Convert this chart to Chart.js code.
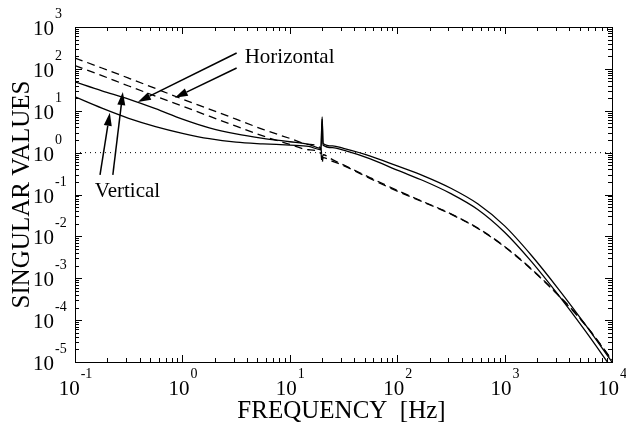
<!DOCTYPE html>
<html>
<head>
<meta charset="utf-8">
<script src="https://cdn.jsdelivr.net/npm/chart.js@4"></script>
<style>
  body { margin: 0; background: #fff; }
  #wrap { width: 626px; height: 430px; }
</style>
</head>
<body>
<div id="wrap"><canvas id="myChart"></canvas></div>
<script>
// frequency points [Hz]
const freq = [0.1, 0.178, 0.316, 0.562, 1, 1.78, 3.16, 5.62, 10, 15, 19.5, 20, 20.4, 25, 31.6, 56.2, 100, 178, 316, 562, 1000, 1780, 3160, 5620, 10000];

// solid curves
const solidUpper = [49, 30, 19, 11.2, 6.3, 3.9, 2.8, 2.2, 1.82, 1.58, 1.26, 7.1, 1.66, 1.45, 1.26, 0.83, 0.48, 0.275, 0.141, 0.060, 0.0178, 0.0035, 0.00056, 0.000079, 0.00001];
const solidLower = [21.4, 11.5, 6.6, 4.2, 2.9, 2.15, 1.78, 1.62, 1.51, 1.41, 1.17, 6.3, 1.51, 1.32, 1.15, 0.71, 0.38, 0.21, 0.105, 0.044, 0.0126, 0.0025, 0.0004, 0.000056, 0.000007];

// dashed curves
const dashedUpper = [182, 105, 60, 34, 19, 11, 6.3, 3.6, 2.19, 1.58, 1.26, 0.71, 0.89, 0.68, 0.51, 0.251, 0.126, 0.066, 0.0347, 0.0158, 0.00575, 0.00166, 0.0004, 0.0000794, 0.0000112];
const dashedLower = [120, 69, 39, 22.4, 12.9, 7.4, 4.3, 2.5, 1.58, 1.17, 0.95, 0.56, 0.76, 0.62, 0.49, 0.24, 0.12, 0.0646, 0.0339, 0.0155, 0.00562, 0.00162, 0.00039, 0.0000776, 0.000011];

// reference level
const unityLine = [1, 1];
const unityFreq = [0.1, 10000];

// axis decades (exponents)
const xDecades = [-1, 0, 1, 2, 3, 4];
const yDecades = [-5, -4, -3, -2, -1, 0, 1, 2, 3];

const serif = '"Liberation Serif", "Times New Roman", serif';

// annotations, in data units
const labels = [
    { text: 'Horizontal', x: 3.8, y: 138 },
    { text: 'Vertical', x: 0.153, y: 0.087 }
];
const arrows = [
    { from: [3.2, 240], to: [0.385, 16.2] },
    { from: [3.2, 105], to: [0.85, 20.4] },
    { from: [0.171, 0.295], to: [0.211, 8.9] },
    { from: [0.225, 0.295], to: [0.279, 28] }
];

function toPoints(xs, ys) {
    return xs.map((x, i) => ({ x: x, y: ys[i] }));
}

function curve(data, dash) {
    return {
        data: data,
        borderColor: '#000',
        borderWidth: 1.3,
        borderDash: dash,
        pointRadius: 0,
        fill: false,
        cubicInterpolationMode: 'monotone'
    };
}

const decorPlugin = {
    id: 'decor',
    afterDraw(chart) {
        const ctx = chart.ctx;
        const a = chart.chartArea;
        const xs = chart.scales.x;
        const ys = chart.scales.y;
        ctx.save();
        ctx.strokeStyle = '#000';
        ctx.fillStyle = '#000';
        ctx.lineWidth = 1;

        // frame
        ctx.strokeRect(Math.round(a.left) + 0.5, Math.round(a.top) + 0.5,
            Math.round(a.right - a.left), Math.round(a.bottom - a.top));

        // inward ticks
        ctx.beginPath();
        xDecades.forEach(d => {
            for (let k = 1; k <= 9; k++) {
                if (d === 4 && k > 1) break;
                const px = Math.round(xs.getPixelForValue(k * Math.pow(10, d))) + 0.5;
                const len = k === 1 ? 7 : 4;
                ctx.moveTo(px, a.bottom); ctx.lineTo(px, a.bottom - len);
                ctx.moveTo(px, a.top); ctx.lineTo(px, a.top + len);
            }
        });
        yDecades.forEach(d => {
            for (let k = 1; k <= 9; k++) {
                if (d === 3 && k > 1) break;
                const py = Math.round(ys.getPixelForValue(k * Math.pow(10, d))) + 0.5;
                const len = k === 1 ? 7 : 4;
                ctx.moveTo(a.left, py); ctx.lineTo(a.left + len, py);
                ctx.moveTo(a.right, py); ctx.lineTo(a.right - len, py);
            }
        });
        ctx.stroke();

        // tick labels 10^n
        const base = '21px ' + serif;
        const sup = '14px ' + serif;
        ctx.textBaseline = 'alphabetic';
        ctx.textAlign = 'left';
        xDecades.forEach(d => {
            const px = xs.getPixelForValue(Math.pow(10, d));
            ctx.font = base;
            const w1 = ctx.measureText('10').width;
            ctx.font = sup;
            const w2 = ctx.measureText(String(d)).width;
            const x0 = px - (w1 + w2) / 2;
            ctx.font = base;
            ctx.fillText('10', x0, a.bottom + 33);
            ctx.font = sup;
            ctx.fillText(String(d), x0 + w1 + 1, a.bottom + 16);
        });
        yDecades.forEach(d => {
            const py = ys.getPixelForValue(Math.pow(10, d));
            ctx.font = base;
            const w1 = ctx.measureText('10').width;
            ctx.fillText('10', 33, py + 8);
            ctx.font = sup;
            ctx.fillText(String(d), 33 + w1 + 1, py - 9);
        });

        // axis titles
        ctx.font = '25px ' + serif;
        ctx.textAlign = 'center';
        ctx.fillText('FREQUENCY  [Hz]', (a.left + a.right) / 2 - 2, 418);
        ctx.save();
        ctx.translate(29, (a.top + a.bottom) / 2);
        ctx.rotate(-Math.PI / 2);
        ctx.fillText('SINGULAR VALUES', 0, 0);
        ctx.restore();

        // annotations
        ctx.font = '21px ' + serif;
        ctx.textAlign = 'left';
        labels.forEach(l => {
            ctx.fillText(l.text, xs.getPixelForValue(l.x), ys.getPixelForValue(l.y));
        });
        ctx.lineWidth = 1.5;
        arrows.forEach(ar => {
            const x1 = xs.getPixelForValue(ar.from[0]);
            const y1 = ys.getPixelForValue(ar.from[1]);
            const x2 = xs.getPixelForValue(ar.to[0]);
            const y2 = ys.getPixelForValue(ar.to[1]);
            const ang = Math.atan2(y2 - y1, x2 - x1);
            const hl = 13, hw = 4;
            const bx = x2 - hl * Math.cos(ang);
            const by = y2 - hl * Math.sin(ang);
            ctx.beginPath();
            ctx.moveTo(x1, y1);
            ctx.lineTo(bx, by);
            ctx.stroke();
            ctx.beginPath();
            ctx.moveTo(x2, y2);
            ctx.lineTo(bx + hw * Math.sin(ang), by - hw * Math.cos(ang));
            ctx.lineTo(bx - hw * Math.sin(ang), by + hw * Math.cos(ang));
            ctx.closePath();
            ctx.fill();
        });
        ctx.restore();
    }
};

const ctx = document.getElementById('myChart').getContext('2d');
new Chart(ctx, {
    type: 'line',
    data: {
        datasets: [
            curve(toPoints(freq, solidUpper), []),
            curve(toPoints(freq, solidLower), []),
            curve(toPoints(freq, dashedUpper), [8, 5]),
            curve(toPoints(freq, dashedLower), [8, 5]),
            {
                data: toPoints(unityFreq, unityLine),
                borderColor: '#000',
                borderWidth: 1,
                borderDash: [1, 4],
                pointRadius: 0,
                fill: false
            }
        ]
    },
    options: {
        responsive: true,
        maintainAspectRatio: false,
        animation: false,
        events: [],
        layout: { padding: { left: 75, top: 27, right: 14, bottom: 68 } },
        plugins: {
            legend: { display: false },
            tooltip: { enabled: false }
        },
        scales: {
            x: { type: 'logarithmic', min: 0.1, max: 10000, display: false },
            y: { type: 'logarithmic', min: 0.00001, max: 1000, display: false }
        }
    },
    plugins: [decorPlugin]
});
</script>
</body>
</html>
